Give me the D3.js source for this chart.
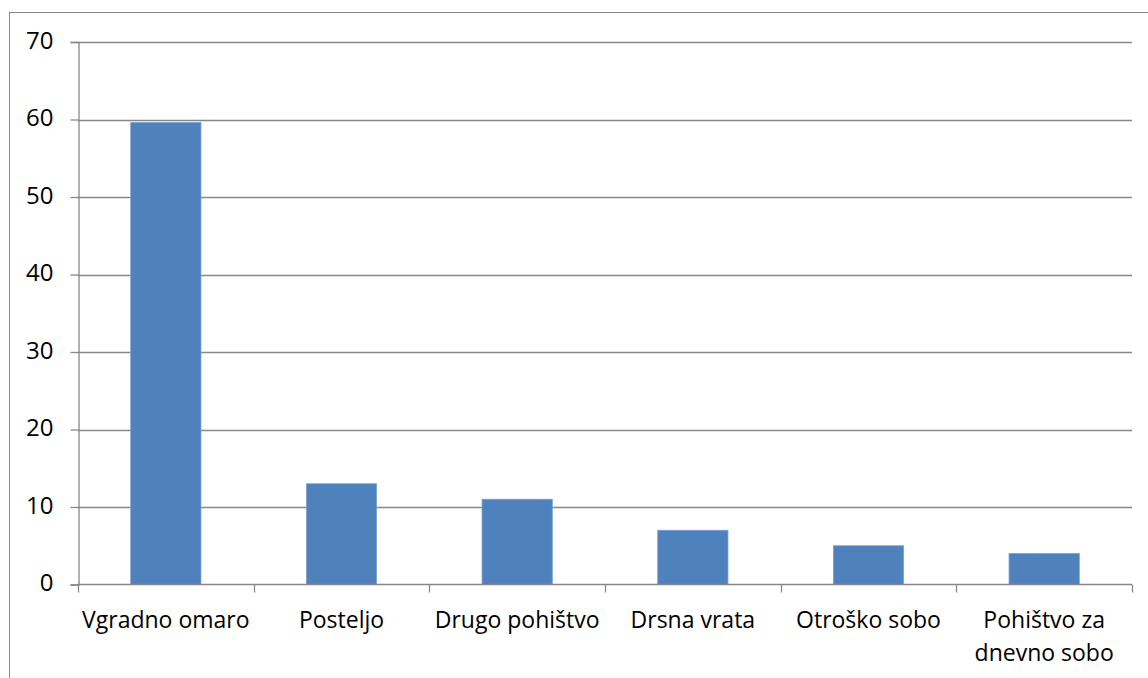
<!DOCTYPE html>
<html>
<head>
<meta charset="utf-8">
<script src="https://cdn.jsdelivr.net/npm/d3@7"></script>
<style>
  html, body { margin: 0; padding: 0; background: #fff; }
  svg { display: block; font-family: "Open Sans", sans-serif; }
</style>
</head>
<body>
<svg id="chart" width="1148" height="678"></svg>
<script>
// Categories (each label split into display lines) and their values
const categories = ["Vgradno omaro", "Posteljo", "Drugo pohištvo", "Drsna vrata", "Otroško sobo", "Pohištvo za dnevno sobo"];
const categoryLines = [["Vgradno omaro"], ["Posteljo"], ["Drugo pohištvo"], ["Drsna vrata"], ["Otroško sobo"], ["Pohištvo za", "dnevno sobo"]];
const values = [59.6, 13, 11, 7, 5, 4];
const yTicks = [0, 10, 20, 30, 40, 50, 60, 70];

const svg = d3.select("#chart");
const margin = { left: 78, right: 16, top: 42, bottom: 93.5 };
const W = 1148, H = 678;
const FONT = "'Open Sans', sans-serif";

// Chart frame (extends past the right and bottom edges)
svg.append("rect")
  .attr("x", 9.5).attr("y", 12.5)
  .attr("width", 1200).attr("height", 700)
  .attr("fill", "none").attr("stroke", "#888").attr("stroke-width", 1);

const x = d3.scaleBand()
  .domain(categories)
  .range([margin.left, W - margin.right])
  .paddingInner(0.6).paddingOuter(0.3);

const y = d3.scaleLinear()
  .domain([0, 70])
  .range([H - margin.bottom, margin.top]);

// Horizontal gridlines
svg.append("g")
  .selectAll("line")
  .data(yTicks.filter(d => d > 0))
  .join("line")
  .attr("x1", margin.left).attr("x2", W - margin.right)
  .attr("y1", d => Math.round(y(d)) + 0.5).attr("y2", d => Math.round(y(d)) + 0.5)
  .attr("stroke", "#888").attr("stroke-width", 1.3);

// Bars
svg.append("g")
  .selectAll("rect")
  .data(values)
  .join("rect")
  .attr("x", (d, i) => x(categories[i]))
  .attr("width", x.bandwidth())
  .attr("y", d => y(d))
  .attr("height", d => y(0) - y(d))
  .attr("fill", "#4F81BD")
  .attr("stroke", "#7BA0CD").attr("stroke-width", 0.8);

// Y axis
const yAxis = d3.axisLeft(y).tickValues(yTicks).tickSize(8).tickPadding(17);
const gy = svg.append("g")
  .attr("transform", `translate(${margin.left + 0.5},0)`)
  .call(yAxis);
gy.attr("font-family", FONT).attr("font-size", 24);
gy.select(".domain").attr("stroke", "#888").attr("stroke-width", 1.3);
gy.selectAll(".tick line").attr("stroke", "#888").attr("stroke-width", 1.3);
gy.selectAll(".tick text").attr("fill", "#000").attr("dy", "0.26em");

// X axis: ticks at category boundaries
const boundaries = d3.range(categories.length + 1).map(i => margin.left + i * (W - margin.left - margin.right) / categories.length);
const gx = svg.append("g");
gx.append("line")
  .attr("x1", margin.left).attr("x2", W - margin.right)
  .attr("y1", y(0)).attr("y2", y(0))
  .attr("stroke", "#888").attr("stroke-width", 1.3);
gx.selectAll("line.tk")
  .data(boundaries)
  .join("line").attr("class", "tk")
  .attr("x1", d => Math.round(d) + 0.5).attr("x2", d => Math.round(d) + 0.5)
  .attr("y1", y(0)).attr("y2", y(0) + 8)
  .attr("stroke", "#888").attr("stroke-width", 1.3);

// Category labels
const labels = svg.append("g")
  .attr("font-family", FONT)
  .selectAll("text")
  .data(categories)
  .join("text")
  .attr("x", d => x(d) + x.bandwidth() / 2)
  .attr("y", y(0) + 43)
  .attr("text-anchor", "middle")
  .attr("font-size", 23)
  .attr("fill", "#000");
labels.each(function(d, i) {
  d3.select(this).selectAll("tspan")
    .data(categoryLines[i])
    .join("tspan")
    .attr("x", x(d) + x.bandwidth() / 2)
    .attr("dy", (t, j) => j === 0 ? 0 : 33)
    .text(t => t);
});
</script>
</body>
</html>
